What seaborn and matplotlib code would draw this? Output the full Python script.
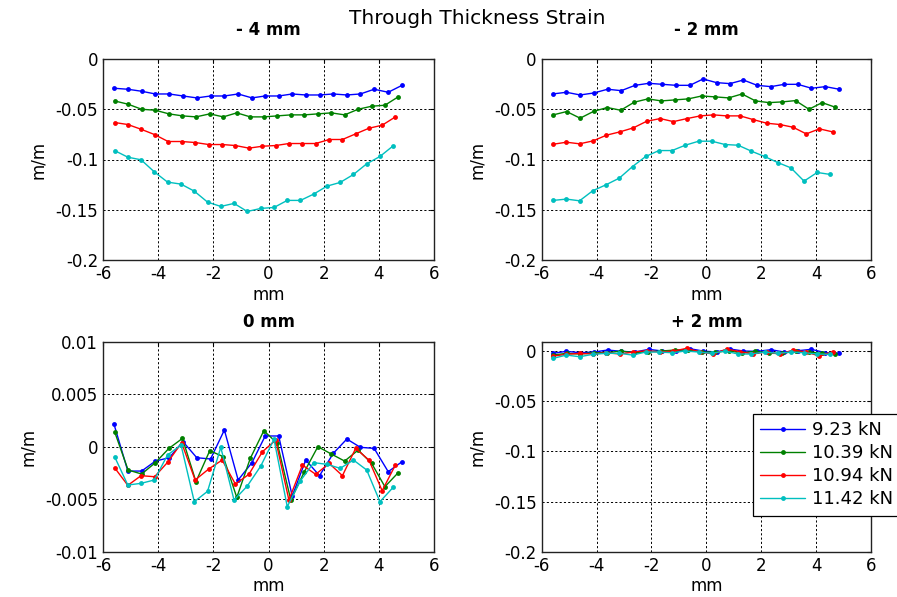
################################################################
# libraries:
import numpy as np
import pandas as pd
import matplotlib
matplotlib.use('Agg')
import matplotlib.pyplot as plt
import seaborn as sns

################################################################
# data:
loads = ['9.23 kN', '10.39 kN', '10.94 kN', '11.42 kN']
colors = ['#0000ff', '#008000', '#ff0000', '#00bfbf']
panels = ['- 4 mm', '- 2 mm', '0 mm', '+ 2 mm']

# positions along the specimen (mm), one list per load
x_923 = [-5.6, -5.1, -4.6, -4.1, -3.6, -3.1, -2.6, -2.1, -1.6, -1.1, -0.6, -0.12, 0.37, 0.86, 1.35, 1.85, 2.35, 2.84, 3.33, 3.83, 4.34, 4.84]
x_1039 = [-5.58, -5.09, -4.6, -4.1, -3.61, -3.12, -2.63, -2.13, -1.64, -1.15, -0.66, -0.17, 0.32, 0.81, 1.3, 1.79, 2.28, 2.76, 3.25, 3.74, 4.22, 4.7]
x_1094 = [-5.58, -5.1, -4.62, -4.13, -3.64, -3.15, -2.66, -2.17, -1.68, -1.2, -0.71, -0.22, 0.26, 0.74, 1.23, 1.71, 2.2, 2.68, 3.16, 3.64, 4.12, 4.6]
x_1142 = [-5.58, -5.1, -4.62, -4.14, -3.66, -3.17, -2.69, -2.21, -1.73, -1.25, -0.77, -0.28, 0.2, 0.68, 1.16, 1.64, 2.12, 2.6, 3.08, 3.56, 4.04, 4.52]

# - 4 mm
m4_923 = [-0.0291, -0.0301, -0.0321, -0.0348, -0.0348, -0.0368, -0.0387, -0.0368, -0.0368, -0.0348, -0.0387, -0.0368, -0.0368, -0.0348, -0.0358, -0.0358, -0.0348, -0.0358, -0.0348, -0.0301, -0.0331, -0.0262]
m4_1039 = [-0.0417, -0.045, -0.05, -0.051, -0.0546, -0.0566, -0.0576, -0.0546, -0.0576, -0.0536, -0.0576, -0.0576, -0.0566, -0.0556, -0.0556, -0.0546, -0.0536, -0.0556, -0.05, -0.047, -0.046, -0.0377]
m4_1094 = [-0.0632, -0.0652, -0.0699, -0.0752, -0.0821, -0.0821, -0.0831, -0.0851, -0.0851, -0.0861, -0.0887, -0.0868, -0.0861, -0.0841, -0.0841, -0.0841, -0.0801, -0.0801, -0.0745, -0.0689, -0.0659, -0.0576]
m4_1142 = [-0.0911, -0.0977, -0.1003, -0.1123, -0.1225, -0.1245, -0.1315, -0.1424, -0.1467, -0.1437, -0.1517, -0.1487, -0.1477, -0.1407, -0.1407, -0.1344, -0.1265, -0.1228, -0.1149, -0.1043, -0.097, -0.0864]

# - 2 mm
m2_923 = [-0.0348, -0.0331, -0.0358, -0.0338, -0.0301, -0.0315, -0.0262, -0.0242, -0.0252, -0.0262, -0.0262, -0.0199, -0.0235, -0.0245, -0.0209, -0.0262, -0.0275, -0.0252, -0.0252, -0.0291, -0.0275, -0.0301]
m2_1039 = [-0.0556, -0.0523, -0.0589, -0.052, -0.0483, -0.051, -0.043, -0.0397, -0.0417, -0.0407, -0.0397, -0.0368, -0.0377, -0.0387, -0.0348, -0.0417, -0.0434, -0.0427, -0.0414, -0.05, -0.0434, -0.048]
m2_1094 = [-0.0848, -0.0828, -0.0844, -0.0815, -0.0758, -0.0725, -0.0685, -0.0619, -0.0593, -0.0623, -0.0593, -0.0566, -0.0556, -0.0566, -0.0566, -0.0603, -0.0639, -0.0652, -0.0679, -0.0745, -0.0695, -0.0725]
m2_1142 = [-0.1407, -0.1394, -0.1411, -0.1311, -0.1252, -0.1185, -0.107, -0.097, -0.0911, -0.0911, -0.0858, -0.0818, -0.0818, -0.0851, -0.0858, -0.0917, -0.097, -0.103, -0.1083, -0.1215, -0.1129, -0.1149]

# 0 mm
z0_923 = [0.00213, -0.00232, -0.00232, -0.00137, -0.00105, 0.00048, -0.00105, -0.00117, 0.00159, -0.00317, -0.00152, 0.00102, 0.00102, -0.0047, -0.00127, -0.00276, -0.00063, 0.00073, -0.00006, -0.00016, -0.00238, -0.00143]
z0_1039 = [0.00143, -0.00222, -0.0026, -0.00152, -0.00016, 0.00079, -0.00333, -0.00038, -0.00095, -0.00483, -0.00111, 0.00152, 0.00032, -0.00508, -0.00238, 0.0, -0.0007, -0.00137, -0.00032, -0.00159, -0.00381, -0.00248]
z0_1094 = [-0.002, -0.00368, -0.00276, -0.00286, -0.00143, 0.00038, -0.00317, -0.00213, -0.00127, -0.00356, -0.00263, -0.00048, 0.00063, -0.00508, -0.00175, -0.00263, -0.00159, -0.00276, -0.00016, -0.00127, -0.00419, -0.00175]
z0_1142 = [-0.00095, -0.00365, -0.00349, -0.00317, -0.00079, 0.00016, -0.00524, -0.00425, -0.00006, -0.00508, -0.00375, -0.00184, 0.0007, -0.00571, -0.00324, -0.00152, -0.00168, -0.00206, -0.00127, -0.00222, -0.00524, -0.00387]

# + 2 mm
p2_923 = [-0.0023, -0.0003, -0.0017, -0.001, 0.001, -0.0003, -0.001, 0.0017, 0.0, 0.0003, 0.0023, 0.0, -0.001, 0.002, 0.0, -0.0003, 0.0013, -0.001, 0.0003, 0.0017, -0.0017, -0.0023]
p2_1039 = [-0.004, -0.0023, -0.003, -0.0017, -0.0017, 0.0, -0.0017, -0.0007, 0.0, 0.001, 0.001, -0.001, -0.001, 0.0, -0.0017, -0.0003, -0.0023, -0.0023, -0.0003, -0.001, -0.0023, -0.003]
p2_1094 = [-0.005, -0.0033, -0.0023, -0.003, -0.0017, -0.003, -0.001, 0.0003, -0.001, 0.0, 0.0027, -0.001, -0.003, 0.002, -0.0007, -0.003, -0.0007, -0.0033, 0.001, -0.001, -0.005, -0.0007]
p2_1142 = [-0.0073, -0.004, -0.0057, -0.0033, -0.0023, -0.0023, -0.004, -0.001, -0.001, -0.0017, 0.0, -0.001, -0.0023, 0.0, -0.003, -0.003, -0.001, -0.0023, -0.001, -0.0017, -0.003, -0.0033]

xticks = [-6, -4, -2, 0, 2, 4, 6]
xtick_labels = ['-6', '-4', '-2', '0', '2', '4', '6']
yticks_big = [-0.2, -0.15, -0.1, -0.05, 0]
ytick_labels_big = ['-0.2', '-0.15', '-0.1', '-0.05', '0']
yticks_small = [-0.01, -0.005, 0, 0.005, 0.01]
ytick_labels_small = ['-0.01', '-0.005', '0', '0.005', '0.01']

################################################################
# long table:
xs = [x_923, x_1039, x_1094, x_1142]
ys = {'- 4 mm': [m4_923, m4_1039, m4_1094, m4_1142],
      '- 2 mm': [m2_923, m2_1039, m2_1094, m2_1142],
      '0 mm': [z0_923, z0_1039, z0_1094, z0_1142],
      '+ 2 mm': [p2_923, p2_1039, p2_1094, p2_1142]}
rows = []
for p in panels:
    for load, xv, yv in zip(loads, xs, ys[p]):
        for a, b in zip(xv, yv):
            rows.append((p, load, a, b))
df = pd.DataFrame(rows, columns=['panel', 'load', 'x', 'y'])

################################################################
# plot:
sns.set_style('white')
plt.rcParams['font.family'] = ['DejaVu Sans']
plt.rcParams['axes.unicode_minus'] = False
plt.rcParams['text.color'] = 'black'
plt.rcParams['axes.labelcolor'] = 'black'

fig = plt.figure(figsize=(8.97, 5.97), dpi=100)
W, H = 897.0, 597.0
rects = {'- 4 mm': [103 / W, 1 - 260 / H, 331 / W, 201 / H],
         '- 2 mm': [541.7 / W, 1 - 260 / H, 329.3 / W, 201 / H],
         '0 mm': [103 / W, 1 - 551.7 / H, 331 / W, 210 / H],
         '+ 2 mm': [541.7 / W, 1 - 551.7 / H, 329.3 / W, 210 / H]}
ylims = {'- 4 mm': (-0.2, 0), '- 2 mm': (-0.2, 0), '0 mm': (-0.01, 0.01), '+ 2 mm': (-0.2, 0.0093)}
title_pos = {'- 4 mm': (268.5, 30), '- 2 mm': (706.4, 30), '0 mm': (268.5, 322), '+ 2 mm': (706.4, 322)}

for p in panels:
    ax = fig.add_axes(rects[p])
    sns.lineplot(data=df[df.panel == p], x='x', y='y', hue='load', hue_order=loads,
                 palette=colors, marker='.', markersize=7, markeredgewidth=0,
                 linewidth=1, estimator=None, sort=False, legend=(p == '+ 2 mm'), ax=ax)
    ax.set_xlim(-6, 6)
    ax.set_ylim(*ylims[p])
    ax.set_xticks(xticks)
    ax.set_xticklabels(xtick_labels)
    if p == '0 mm':
        ax.set_yticks(yticks_small)
        ax.set_yticklabels(ytick_labels_small)
    else:
        ax.set_yticks(yticks_big)
        ax.set_yticklabels(ytick_labels_big)
    ax.grid(True, color='black', linestyle=(0, (2.2, 2.2)), linewidth=0.7)
    ax.tick_params(direction='in', length=3, width=0.8, top=True, right=True,
                   labelsize=12, pad=3.5, colors='black')
    for s in ax.spines.values():
        s.set_color('#222222')
        s.set_linewidth(1.0)
    ax.set_xlabel('mm', fontsize=12, labelpad=2)
    ax.set_ylabel('m/m', fontsize=12, labelpad=6)
    fig.text(title_pos[p][0] / W, 1 - title_pos[p][1] / H, p, ha='center', va='center',
             fontsize=12, fontweight='bold')
    if p == '+ 2 mm':
        handles, labels = ax.get_legend_handles_labels()
        ax.get_legend().remove()
        leg = ax.legend(handles, labels, loc='upper left', bbox_to_anchor=(753 / W, 1 - 414 / H),
                        bbox_transform=fig.transFigure, borderaxespad=0, fontsize=13,
                        handlelength=2.5, handletextpad=0.35, labelspacing=0.28,
                        borderpad=0.4, fancybox=False, framealpha=1, edgecolor='black')
        leg.get_frame().set_linewidth(0.9)

fig.text(477.5 / W, 1 - 19 / H, 'Through Thickness Strain', ha='center', va='center', fontsize=14.5)

plt.savefig('out.png', dpi=100)
